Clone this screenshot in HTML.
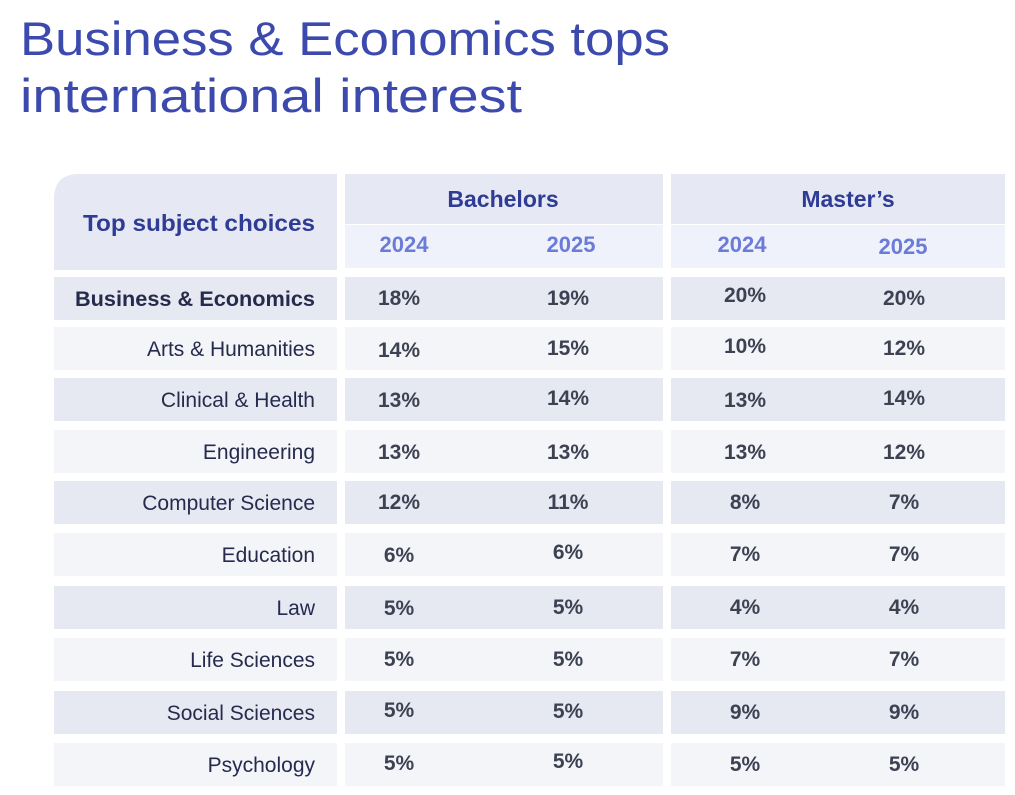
<!DOCTYPE html>
<html><head><meta charset="utf-8"><style>
html,body{margin:0;padding:0;background:#fff;width:1015px;height:795px;overflow:hidden}
svg{display:block}
.t{font-family:"Liberation Sans",sans-serif;fill:#3c4aad;font-size:47px}
.l{font-family:"Liberation Sans",sans-serif;fill:#262b4d;font-size:21px}
.v{font-family:"Liberation Sans",sans-serif;fill:#3d4252;font-size:21px;font-weight:bold}
.y{font-family:"Liberation Sans",sans-serif;fill:#6b7bd8;font-size:22px;font-weight:bold}
.h{font-family:"Liberation Sans",sans-serif;fill:#2f3c95;font-size:23px;font-weight:bold}
</style></head><body>
<svg width="1015" height="795" viewBox="0 0 1015 795">
<text class="t" x="20" y="55" textLength="650" lengthAdjust="spacingAndGlyphs">Business &amp; Economics tops</text>
<text class="t" x="20" y="112" textLength="502" lengthAdjust="spacingAndGlyphs">international interest</text>
<path d="M54 270 V199 Q54 174 79 174 H337 V270 Z" fill="#e6e8f3"/>
<rect x="345" y="174" width="318" height="50" fill="#e6e8f3"/>
<rect x="345" y="225" width="318" height="43" fill="#eff1fb"/>
<rect x="671" y="174" width="334" height="50" fill="#e6e8f3"/>
<rect x="671" y="225" width="334" height="43" fill="#eff1fb"/>
<text class="h" x="315" y="231" text-anchor="end" textLength="232" lengthAdjust="spacingAndGlyphs">Top subject choices</text>
<text class="h" x="503" y="207" text-anchor="middle">Bachelors</text>
<text class="h" x="848" y="207" text-anchor="middle">Master’s</text>
<text class="y" x="404" y="252" text-anchor="middle">2024</text>
<text class="y" x="571" y="252" text-anchor="middle">2025</text>
<text class="y" x="742" y="252" text-anchor="middle">2024</text>
<text class="y" x="903" y="254" text-anchor="middle">2025</text>
<g id="rows"></g>
</svg>
<script>
var rows=[
["Business & Economics",277,["18%","19%","20%","20%"],[298,298,295,298]],
["Arts & Humanities",327,["14%","15%","10%","12%"],[350,348,346,348]],
["Clinical & Health",378,["13%","14%","13%","14%"],[400,398,400,398]],
["Engineering",430,["13%","13%","13%","12%"],[452,452,452,452]],
["Computer Science",481,["12%","11%","8%","7%"],[502,502,502,502]],
["Education",533,["6%","6%","7%","7%"],[555,552,554,554]],
["Law",586,["5%","5%","4%","4%"],[608,607,607,607]],
["Life Sciences",638,["5%","5%","7%","7%"],[659,659,659,659]],
["Social Sciences",691,["5%","5%","9%","9%"],[710,711,712,712]],
["Psychology",743,["5%","5%","5%","5%"],[763,761,764,764]]];
var xs=[399,568,745,904],g=document.getElementById('rows'),s='';
rows.forEach(function(r,i){var c=i%2?'#f4f5f9':'#e6e8f2';
s+='<rect x="54" y="'+r[1]+'" width="283" height="43" fill="'+c+'"/>';
s+='<rect x="345" y="'+r[1]+'" width="318" height="43" fill="'+c+'"/>';
s+='<rect x="671" y="'+r[1]+'" width="334" height="43" fill="'+c+'"/>';
var ly=r[1]+29;
if(i==0)s+='<text class="l" x="315" y="'+ly+'" text-anchor="end" font-weight="bold" fill="#1f2550" textLength="240" lengthAdjust="spacingAndGlyphs">Business &amp; Economics</text>';
else s+='<text class="l" x="315" y="'+ly+'" text-anchor="end">'+r[0].replace('&','&amp;')+'</text>';
for(var k=0;k<4;k++)s+='<text class="v" x="'+xs[k]+'" y="'+(r[3][k]+7)+'" text-anchor="middle">'+r[2][k]+'</text>';});
g.innerHTML=s;
</script>
</body></html>
